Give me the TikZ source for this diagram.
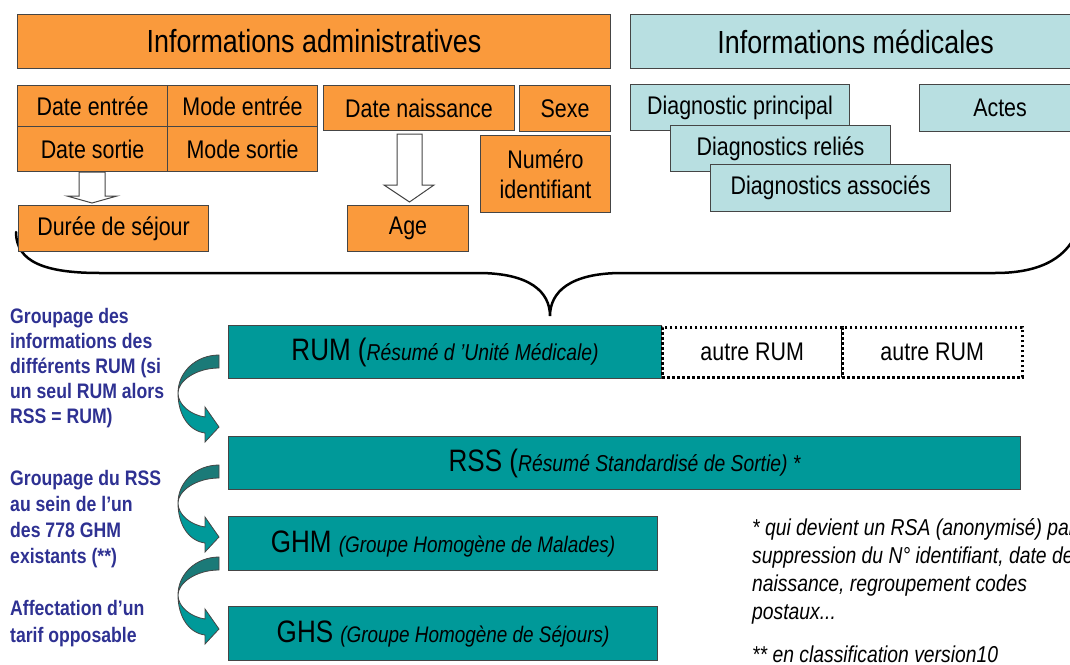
\documentclass[tikz,border=0pt]{standalone}
\usepackage{fontspec}
\setmainfont{Liberation Sans}[FakeStretch=0.84]
\usetikzlibrary{calc}
\definecolor{orng}{HTML}{FA9A3C}
\definecolor{lcyan}{HTML}{B8DFE1}
\definecolor{tealA}{HTML}{009999}
\definecolor{tealdk}{HTML}{1B7A78}
\definecolor{bordr}{HTML}{454545}
\definecolor{navy}{HTML}{2E3192}
\begin{document}
\begin{tikzpicture}[x=1pt,y=-1pt,
  box/.style={draw=bordr, line width=1.1pt, inner sep=0pt, anchor=north west, align=center},
  ob/.style={box, fill=orng},
  cb/.style={box, fill=lcyan},
  tb/.style={box, fill=tealA},
  bigf/.style={font=\fontsize{32}{36}\selectfont},
  midf/.style={font=\fontsize{25.5}{30}\selectfont},
  dotbox/.style={box, draw=black, fill=white, line width=2.5pt, dash pattern=on 2.5pt off 2.5pt},
  sidetext/.style={anchor=north west, inner sep=0pt, align=left, text=navy},
  notetext/.style={anchor=north west, inner sep=0pt, align=left, font=\fontsize{23}{28}\selectfont\itshape},
  hollow/.style={fill=white, draw=bordr, line width=1pt},
  carrow/.pic={
    \filldraw[fill=tealdk, draw=bordr, line width=0.8pt] (0,0) .. controls (-23,0) and (-41,17) .. (-41,38) .. controls (-41,26) and (-23,13) .. (0,13) -- cycle;
    \filldraw[fill=tealA, draw=bordr, line width=0.8pt] (-41,38) .. controls (-41,60) and (-30,76) .. (-14,78) -- (-14,87) -- (0,72) -- (-14,52) -- (-14,62) .. controls (-28,60) and (-41,50) .. (-41,38) -- cycle;
  }
]
\useasboundingbox (0,0) rectangle (1070,664);
\clip (0,0) rectangle (1070,664);

% brace
\draw[line width=2.5pt, line cap=round] (16,232) .. controls (16,262) and (45,273) .. (100,273) -- (478,273) .. controls (530,273) and (550,292) .. (550,316) .. controls (550,292) and (570,273) .. (622,273) -- (995,273) .. controls (1045,273) and (1068,255) .. (1078,230);

% headers
\node[ob, bigf, minimum width=593pt, minimum height=54pt] (hadm) at (17,14) {Informations administratives};
\node[cb, bigf, minimum width=450pt, minimum height=54pt] (hmed) at (630,14) {Informations médicales};

% administrative boxes
\node[ob, midf, minimum width=150pt, minimum height=41pt] (dent) at (17,85) {Date entrée};
\node[ob, midf, minimum width=150pt, minimum height=41pt] (ment) at (167,85) {Mode entrée};
\node[ob, midf, minimum width=150pt, minimum height=45pt] (dsor) at (17,126) {Date sortie};
\node[ob, midf, minimum width=150pt, minimum height=45pt] (msor) at (167,126) {Mode sortie};
\node[ob, midf, minimum width=191pt, minimum height=45pt] (dnai) at (323,85) {Date naissance};
\node[ob, midf, minimum width=91pt, minimum height=46pt] (sexe) at (519,85) {Sexe};
\node[ob, midf, minimum width=130pt, minimum height=77pt] (numid) at (480,135) {Numéro\\identifiant};
\node[ob, midf, minimum width=190pt, minimum height=46pt] (duree) at (18,205) {Durée de séjour};
\node[ob, midf, minimum width=121pt, minimum height=46pt] (age) at (347,205) {Age};

% hollow arrows
\filldraw[hollow] (79,172) -- (105,172) -- (105,196) -- (117,196) -- (92,203) -- (67,196) -- (79,196) -- cycle;
\filldraw[hollow] (397,134) -- (422,134) -- (422,185) -- (434,185) -- (409.5,202) -- (384,185) -- (397,185) -- cycle;

% medical boxes
\node[cb, midf, minimum width=219pt, minimum height=46pt] (dprin) at (630,84) {Diagnostic principal};
\node[cb, midf, minimum width=220pt, minimum height=46pt] (drel) at (670,125) {Diagnostics reliés};
\node[cb, midf, minimum width=240pt, minimum height=47pt] (dass) at (710,164) {Diagnostics associés};
\node[cb, midf, minimum width=161pt, minimum height=47pt] (actes) at (919,84) {Actes};

% teal chain
\node[tb, minimum width=433pt, minimum height=53pt] (rum) at (228,325) {{\fontsize{31}{36}\selectfont RUM (}{\fontsize{23}{28}\selectfont\itshape Résumé d 'Unité Médicale)}};
\node[dotbox, midf, minimum width=180pt, minimum height=50pt] (autre1) at (661,326) {autre RUM};
\node[dotbox, midf, minimum width=180pt, minimum height=50pt] (autre2) at (841,326) {autre RUM};
\node[tb, minimum width=792pt, minimum height=53pt] (rss) at (228,436) {{\fontsize{31}{36}\selectfont RSS (}{\fontsize{23}{28}\selectfont\itshape Résumé Standardisé de Sortie) *}};
\node[tb, minimum width=429pt, minimum height=54pt] (ghm) at (228,516) {{\fontsize{31}{36}\selectfont GHM }{\fontsize{22.5}{28}\selectfont\itshape (Groupe Homogène de Malades)}};
\node[tb, minimum width=429pt, minimum height=54pt] (ghs) at (228,606) {{\fontsize{31}{36}\selectfont GHS }{\fontsize{22.5}{28}\selectfont\itshape (Groupe Homogène de Séjours)}};

% curved arrows
\pic at (219,355) {carrow};
\pic at (219,465) {carrow};
\pic at (219,557) {carrow};

% side texts
\node[sidetext, font=\fontsize{21}{25}\selectfont\bfseries] (t1) at (10,308) {Groupage des\\informations des\\différents RUM (si\\un seul RUM alors\\RSS = RUM)};
\node[sidetext, font=\fontsize{21}{26}\selectfont\bfseries] (t2) at (10,470) {Groupage du RSS\\au sein de l'un\\des 778 GHM\\existants (**)};
\node[sidetext, font=\fontsize{21}{27}\selectfont\bfseries] (t3) at (10,600) {Affectation d'un\\tarif opposable};

% notes
\node[notetext] (n1) at (752,518) {* qui devient un RSA (anonymisé) par\\suppression du N° identifiant, date de\\naissance, regroupement codes\\postaux...};
\node[notetext] (n2) at (752,646) {** en classification version10};
\end{tikzpicture}
\end{document}
